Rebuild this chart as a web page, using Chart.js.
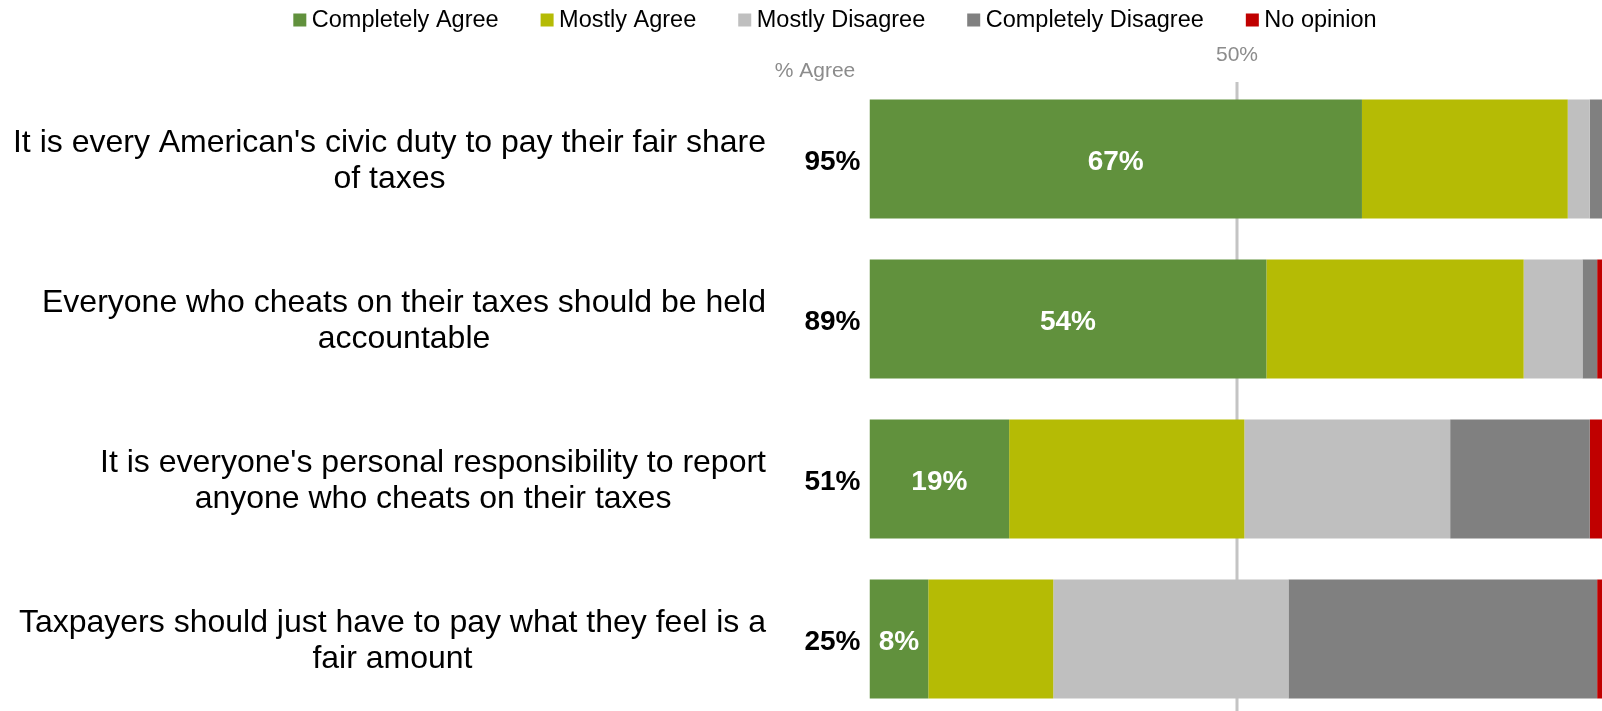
<!DOCTYPE html>
<html>
<head>
<meta charset="utf-8">
<title>Attitudes toward taxes</title>
<script src="https://cdn.jsdelivr.net/npm/chart.js@4.4.1/dist/chart.umd.min.js"></script>
<style>
  html, body { margin: 0; padding: 0; background: #fff; overflow: hidden; }
  #wrap { width: 1606px; height: 720px; }
</style>
</head>
<body>
<div id="wrap"><canvas id="myChart" width="1606" height="720"></canvas></div>
<script>
// statements, each one split into its two display lines
const statements = [
  ["It is every American's civic duty to pay their fair share", "of taxes"],
  ["Everyone who cheats on their taxes should be held", "accountable"],
  ["It is everyone's personal responsibility to report", "anyone who cheats on their taxes"],
  ["Taxpayers should just have to pay what they feel is a", "fair amount"]
];

const seriesNames = ['Completely Agree', 'Mostly Agree', 'Mostly Disagree', 'Completely Disagree', 'No opinion'];

const completelyAgree    = [67, 54, 19, 8];
const mostlyAgree        = [28, 35, 32, 17];
const mostlyDisagree     = [3, 8, 28, 32];
const completelyDisagree = [2, 2, 19, 42];
const noOpinion          = [0, 1, 2, 1];

const midLine = 50;

const seriesColors = ['#61913d', '#b5bb05', '#bfbfbf', '#808080', '#c00000'];
const FONT = "'Liberation Sans', Arial, sans-serif";

const agreeTotal = completelyAgree.map((v, i) => v + mostlyAgree[i]);

const datasets = [completelyAgree, mostlyAgree, mostlyDisagree, completelyDisagree, noOpinion].map((d, i) => ({
  label: seriesNames[i],
  data: d,
  backgroundColor: seriesColors[i],
  borderWidth: 0,
  barPercentage: 0.744,
  categoryPercentage: 1
}));

const extras = {
  id: 'extras',
  beforeDatasetsDraw(chart) {
    const ctx = chart.ctx;
    const px = chart.scales.x.getPixelForValue(midLine);
    ctx.save();
    // 50% reference line, sits behind the bars
    ctx.strokeStyle = '#c4c4c4';
    ctx.lineWidth = 3;
    ctx.beginPath();
    ctx.moveTo(px, 82);
    ctx.lineTo(px, chart.height);
    ctx.stroke();

    ctx.fillStyle = '#8c8c8c';
    ctx.font = '21px ' + FONT;
    ctx.textAlign = 'center';
    ctx.textBaseline = 'middle';
    ctx.fillText(midLine + '%', px, 55);
    ctx.fillText('% Agree', 815, 71);
    ctx.restore();
  },
  afterDatasetsDraw(chart) {
    const ctx = chart.ctx;
    const area = chart.chartArea;
    const bars = chart.getDatasetMeta(0).data;
    ctx.save();
    ctx.textBaseline = 'middle';

    bars.forEach((bar, i) => {
      // statement text, lines centred on each other, block flush right
      ctx.font = '32px ' + FONT;
      ctx.fillStyle = '#000';
      ctx.textAlign = 'center';
      const lines = statements[i];
      const w = Math.max(...lines.map(l => ctx.measureText(l).width));
      const cx = 766 - w / 2;
      lines.forEach((l, j) => {
        ctx.fillText(l, cx, bar.y + 2 + (j - (lines.length - 1) / 2) * 36);
      });

      // % agree column
      ctx.font = 'bold 28px ' + FONT;
      ctx.textAlign = 'right';
      ctx.fillText(agreeTotal[i] + '%', area.left - 9, bar.y + 3);

      // value inside the completely agree segment
      ctx.fillStyle = '#fff';
      ctx.textAlign = 'center';
      ctx.fillText(completelyAgree[i] + '%', (bar.x + bar.base) / 2, bar.y + 3);
    });
    ctx.restore();
  },
  afterDraw(chart) {
    // legend row across the top
    const ctx = chart.ctx;
    const box = 13, gap = 5.5, spacing = 42;
    ctx.save();
    ctx.font = '23.5px ' + FONT;
    ctx.textBaseline = 'middle';
    ctx.textAlign = 'left';
    const items = chart.data.datasets.map(ds => ({
      text: ds.label,
      color: ds.backgroundColor,
      w: box + gap + ctx.measureText(ds.label).width
    }));
    const total = items.reduce((s, it) => s + it.w, 0) + spacing * (items.length - 1);
    let x = 835 - total / 2;
    const y = 21;
    items.forEach(it => {
      ctx.fillStyle = it.color;
      ctx.fillRect(x, y - box / 2 - 1, box, box);
      ctx.fillStyle = '#000';
      ctx.fillText(it.text, x + box + gap, y);
      x += it.w + spacing;
    });
    ctx.restore();
  }
};

new Chart(document.getElementById('myChart').getContext('2d'), {
  type: 'bar',
  data: {
    labels: statements,
    datasets: datasets
  },
  options: {
    indexAxis: 'y',
    responsive: false,
    animation: false,
    layout: { padding: { left: 869.5, right: 1.5, top: 79, bottom: 1 } },
    scales: {
      x: { stacked: true, min: 0, max: 100, display: false },
      y: { stacked: true, display: false }
    },
    plugins: {
      legend: { display: false },
      tooltip: { enabled: false }
    }
  },
  plugins: [extras]
});
</script>
</body>
</html>
